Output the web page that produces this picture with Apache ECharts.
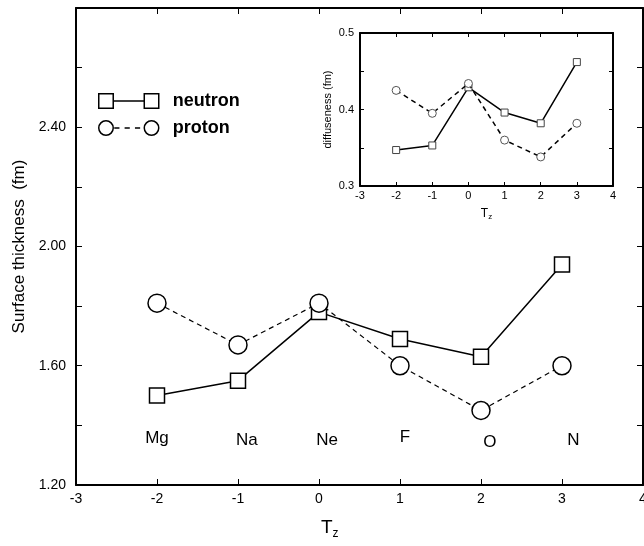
<!DOCTYPE html>
<html>
<head>
<meta charset="utf-8">
<script src="https://cdn.jsdelivr.net/npm/echarts@6/dist/echarts.min.js"></script>
<style>html,body{margin:0;padding:0;background:#fff;}#c{width:644px;height:546px;}</style>
</head>
<body>
<div id="c"></div>
<script>
// ---- data ----
const tz = [-2, -1, 0, 1, 2, 3];
const neutronThickness = [1.50, 1.55, 1.78, 1.69, 1.63, 1.94];
const protonThickness  = [1.81, 1.67, 1.81, 1.60, 1.45, 1.60];
const neutronDiffuseness = [0.347, 0.353, 0.429, 0.396, 0.382, 0.462];
const protonDiffuseness  = [0.425, 0.395, 0.434, 0.360, 0.338, 0.382];
const elementNames = ['Mg', 'Na', 'Ne', 'F', 'O', 'N'];
const elementLabelX = [-2.0, -0.89, 0.10, 1.06, 2.11, 3.14];
const elementLabelY = [1.357, 1.35, 1.35, 1.36, 1.343, 1.35];
const mainYLabels = ['1.20', '1.60', '2.00', '2.40'];
const insetYLabels = ['0.3', '0.4', '0.5'];

const FONT = 'Liberation Sans, Arial, Helvetica, sans-serif';
const chart = echarts.init(document.getElementById('c'), null, {renderer: 'canvas'});

function pairs(xs, ys) { return xs.map((x, i) => [x, ys[i]]); }

const frameLine = {show: true, onZero: false, lineStyle: {color: '#000', width: 2}};
function xAx(grid, pos, show, fs, len, extra) {
  return Object.assign({
    type: 'value', gridIndex: grid, position: pos, min: -3, max: 4, interval: 1,
    axisLine: frameLine, splitLine: {show: false},
    axisTick: {show: true, inside: true, length: len, lineStyle: {color: '#000', width: 1}},
    axisLabel: {show: show, color: '#000', fontFamily: FONT, fontSize: fs, margin: grid === 0 ? 7 : 4}
  }, extra || {});
}

const option = {
  animation: false,
  backgroundColor: '#fff',
  grid: [
    {left: 76, right: 1, top: 8, bottom: 61, containLabel: false, outerBoundsMode: 'none'},
    {left: 360, top: 33, width: 253, height: 153, containLabel: false, outerBoundsMode: 'none'}
  ],
  xAxis: [
    xAx(0, 'bottom', true, 14, 6),
    xAx(0, 'top', false, 14, 6),
    xAx(1, 'bottom', true, 11, 4, {
      name: 'T{s|z}', nameLocation: 'middle', nameGap: 20,
      nameTextStyle: {color: '#000', fontFamily: FONT, fontSize: 12,
        rich: {s: {fontSize: 8, fontFamily: FONT, color: '#000', padding: [7, 0, 0, 0]}}}
    }),
    xAx(1, 'top', false, 11, 4)
  ],
  yAxis: [
    {type: 'value', gridIndex: 0, position: 'left', min: 1.2, max: 2.8, interval: 0.2,
     axisLine: frameLine, splitLine: {show: false},
     axisTick: {show: true, inside: true, length: 6, lineStyle: {color: '#000'}},
     axisLabel: {color: '#000', fontFamily: FONT, fontSize: 14, margin: 10,
       formatter: v => { const s = v.toFixed(2); return mainYLabels.indexOf(s) >= 0 ? s : ''; }},
     name: 'Surface thickness  (fm)', nameLocation: 'middle', nameGap: 48,
     nameTextStyle: {color: '#000', fontFamily: FONT, fontSize: 17}},
    {type: 'value', gridIndex: 0, position: 'right', min: 1.2, max: 2.8, interval: 0.2,
     axisLine: frameLine, splitLine: {show: false},
     axisTick: {show: true, inside: true, length: 6, lineStyle: {color: '#000'}},
     axisLabel: {show: false}},
    {type: 'value', gridIndex: 1, position: 'left', min: 0.3, max: 0.5, interval: 0.05,
     axisLine: frameLine, splitLine: {show: false},
     axisTick: {show: true, inside: true, length: 4, lineStyle: {color: '#000'}},
     axisLabel: {color: '#000', fontFamily: FONT, fontSize: 11, margin: 6,
       formatter: v => { const s = v.toFixed(1); return (insetYLabels.indexOf(s) >= 0 && Math.abs(v * 10 - Math.round(v * 10)) < 1e-6) ? s : ''; }},
     name: 'diffuseness (fm)', nameLocation: 'middle', nameGap: 27,
     nameTextStyle: {color: '#000', fontFamily: FONT, fontSize: 11}},
    {type: 'value', gridIndex: 1, position: 'right', min: 0.3, max: 0.5, interval: 0.05,
     axisLine: frameLine, splitLine: {show: false},
     axisTick: {show: true, inside: true, length: 4, lineStyle: {color: '#000'}},
     axisLabel: {show: false}}
  ],
  title: [{
    text: 'T{s|z}', left: 316, top: 511,
    textStyle: {color: '#000', fontFamily: FONT, fontSize: 19, fontWeight: 'normal',
      rich: {s: {fontSize: 12, fontFamily: FONT, color: '#000', padding: [12, 0, 0, 0]}}}
  }],
  legend: {
    left: 93, top: 87, orient: 'vertical', itemWidth: 60, itemHeight: 16, itemGap: 9,
    selectedMode: false,
    textStyle: {color: '#000', fontFamily: FONT, fontSize: 18, fontWeight: 'bold', padding: [0, 0, 0, 9]},
    data: [
      {name: 'neutron', icon: 'path://M1,1H15V15H1Z M15,8H45 M45,1H59V15H45Z',
       itemStyle: {color: '#fff', borderColor: '#000', borderWidth: 1.5}},
      {name: 'proton', icon: 'path://M1,8a7,7 0 1,0 14,0a7,7 0 1,0 -14,0Z M16,8H21 M26,8H31 M36,8H41 M45,8a7,7 0 1,0 14,0a7,7 0 1,0 -14,0Z',
       itemStyle: {color: '#fff', borderColor: '#000', borderWidth: 1.5}}
    ]
  },
  series: [
    {name: 'neutron', type: 'line', xAxisIndex: 0, yAxisIndex: 0, data: pairs(tz, neutronThickness),
     symbol: 'rect', symbolSize: 15, showAllSymbol: true,
     lineStyle: {color: '#000', width: 1.5, type: 'solid'},
     itemStyle: {color: '#fff', borderColor: '#000', borderWidth: 1.5}, z: 3},
    {name: 'proton', type: 'line', xAxisIndex: 0, yAxisIndex: 0, data: pairs(tz, protonThickness),
     symbol: 'circle', symbolSize: 18, showAllSymbol: true,
     lineStyle: {color: '#000', width: 1.2, type: [5, 4]},
     itemStyle: {color: '#fff', borderColor: '#000', borderWidth: 1.5}, z: 4},
    {name: 'labels', type: 'scatter', xAxisIndex: 0, yAxisIndex: 0, silent: true,
     data: elementNames.map((n, i) => ({value: [elementLabelX[i], elementLabelY[i]], name: n})),
     symbolSize: 0, itemStyle: {color: '#000', opacity: 1},
     label: {show: true, position: 'inside', formatter: p => p.name, color: '#000', opacity: 1,
       textBorderWidth: 0, fontFamily: FONT, fontSize: 17}},
    {name: 'neutronInset', type: 'line', xAxisIndex: 2, yAxisIndex: 2, data: pairs(tz, neutronDiffuseness),
     symbol: 'rect', symbolSize: 7, showAllSymbol: true,
     lineStyle: {color: '#000', width: 1.5},
     itemStyle: {color: '#fff', borderColor: '#444', borderWidth: 1}, z: 3},
    {name: 'protonInset', type: 'line', xAxisIndex: 2, yAxisIndex: 2, data: pairs(tz, protonDiffuseness),
     symbol: 'circle', symbolSize: 8, showAllSymbol: true,
     lineStyle: {color: '#000', width: 1.5, type: [5, 4]},
     itemStyle: {color: '#fff', borderColor: '#555', borderWidth: 1}, z: 4}
  ]
};
chart.setOption(option);
</script>
</body>
</html>
